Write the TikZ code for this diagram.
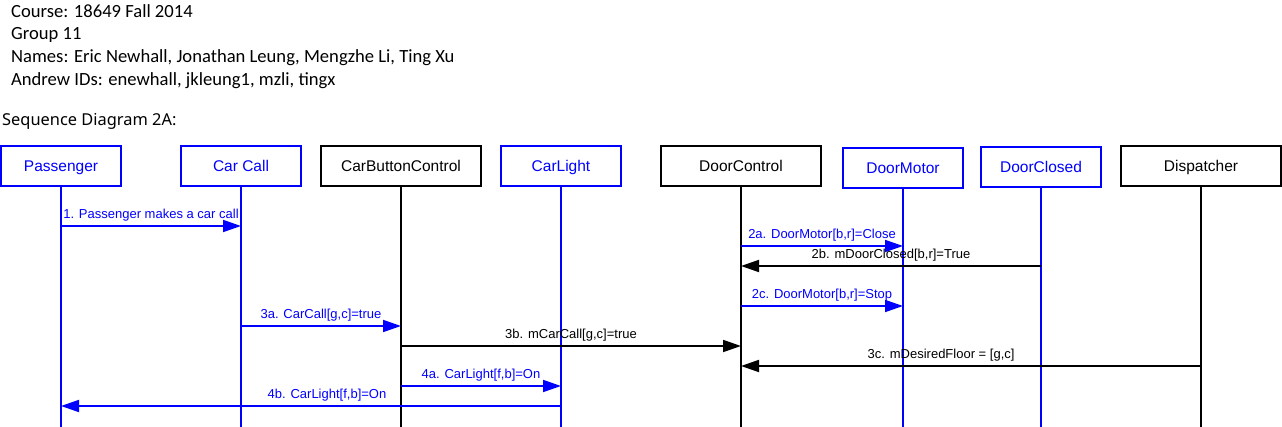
\documentclass[tikz,border=0pt]{standalone}
\usepackage{fontspec}
\setmainfont{Liberation Sans}
\newfontfamily\headfont{Carlito}
\newfontfamily\titlefont{Noto Sans}
\usepackage{tikz}
\usetikzlibrary{arrows.meta,positioning}
\definecolor{umlblue}{RGB}{0,0,255}
\tikzset{%
  % Specifications for style of nodes:
     lifebox/.style = {rectangle, draw=black, line width=2pt,
                        minimum width=160pt, minimum height=40pt,
                        text height=11pt, text depth=0pt,
                        text centered, font=\fontsize{15.5}{18}\selectfont},
     actorbox/.style = {lifebox, draw=umlblue, text=umlblue, minimum width=120pt},
     lifeline/.style = {line width=2pt},
     message/.style = {line width=1.8pt, -{Triangle[length=18pt,width=12pt]}},
     msgBlue/.style = {message, draw=umlblue},
     msgLabel/.style = {above=2.5pt, inner sep=1pt, font=\fontsize{13}{15}\selectfont},
}

\begin{document}
\begin{tikzpicture}[x=1pt, y=-1pt, node distance=160pt]
  \useasboundingbox (0,0) rectangle (1282,427);

  % header text
  \node (header) [anchor=north west, inner sep=0pt, align=left,
                  font=\headfont\fontsize{18.6}{22.8}\selectfont] at (11,4)
                 {Course: 18649 Fall 2014\\
                  Group 11\\
                  Names: Eric Newhall, Jonathan Leung, Mengzhe Li, Ting Xu\\
                  Andrew IDs: enewhall, jkleung1, mzli, tingx};
  \node (title) [anchor=west, inner sep=0pt,
                 font=\titlefont\fontsize{16.4}{19}\selectfont] at (2,121)
                {Sequence Diagram 2A:};

  % Specification of lifeline boxes
  \node (passenger)  [actorbox] at (61,166) {Passenger};
  \node (carCall)    [actorbox, right of=passenger, xshift=20pt] {Car Call};
  \node (carButton)  [lifebox, right of=carCall] {CarButtonControl};
  \node (carLight)   [actorbox, right of=carButton] {CarLight};
  \node (doorControl) [lifebox, right of=carLight, xshift=20pt] {DoorControl};
  \node (doorMotor)  [actorbox, right of=doorControl, xshift=2pt, yshift=-2pt] {DoorMotor};
  \node (doorClosed) [actorbox, right of=doorMotor, xshift=-22pt, yshift=0.5pt] {DoorClosed};
  \node (dispatcher) [lifebox, right of=doorClosed, yshift=1.5pt] {Dispatcher};

  \coordinate (bottom) at (0,427);
  \foreach \m/\y in {m1/226, m2a/246, m2b/266, m2c/306, m3a/326,
                     m3b/346, m3c/366, m4a/386, m4b/406}
    \coordinate (\m) at (0,\y);

  % lifelines
  \foreach \n in {passenger, carCall, carLight, doorMotor, doorClosed}
    \draw[lifeline, umlblue] (\n.south) -- (\n.south |- bottom);
  \foreach \n in {carButton, doorControl, dispatcher}
    \draw[lifeline] (\n.south) -- (\n.south |- bottom);

  % messages between lifelines
  \draw[msgBlue] (passenger |- m1) -- node[msgLabel, text=umlblue] {1. Passenger makes a car call} (carCall |- m1);
  \draw[msgBlue] (doorControl |- m2a) -- node[msgLabel, text=umlblue] {2a. DoorMotor[b,r]=Close} (doorMotor |- m2a);
  \draw[message] (doorClosed |- m2b) -- node[msgLabel] {2b. mDoorClosed[b,r]=True} (doorControl |- m2b);
  \draw[msgBlue] (doorControl |- m2c) -- node[msgLabel, text=umlblue] {2c. DoorMotor[b,r]=Stop} (doorMotor |- m2c);
  \draw[msgBlue] (carCall |- m3a) -- node[msgLabel, text=umlblue] {3a. CarCall[g,c]=true} (carButton |- m3a);
  \draw[message] (carButton |- m3b) -- node[msgLabel] {3b. mCarCall[g,c]=true} (doorControl |- m3b);
  \draw[message] (dispatcher |- m3c) -- node[msgLabel, pos=0.565] {3c. mDesiredFloor = [g,c]} (doorControl |- m3c);
  \draw[msgBlue] (carButton |- m4a) -- node[msgLabel, text=umlblue] {4a. CarLight[f,b]=On} (carLight |- m4a);
  \draw[msgBlue] (carLight |- m4b) -- node[msgLabel, text=umlblue, pos=0.468] {4b. CarLight[f,b]=On} (passenger |- m4b);

\end{tikzpicture}
\end{document}
